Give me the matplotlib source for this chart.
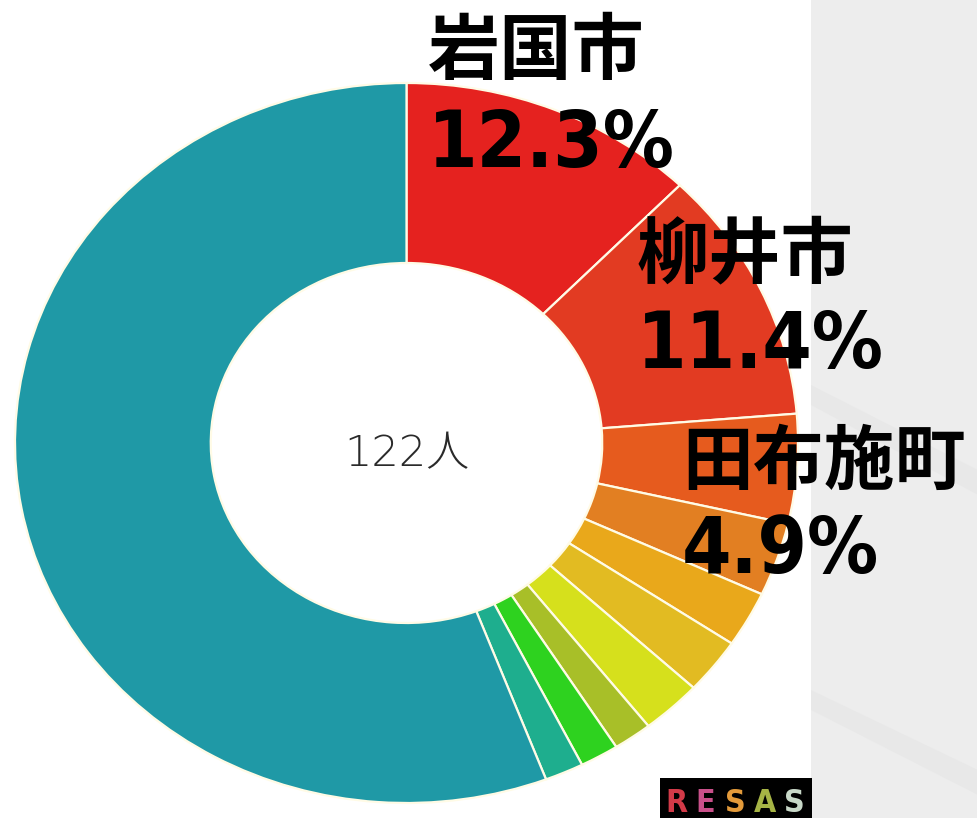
import matplotlib
matplotlib.use("Agg")
import matplotlib.pyplot as plt
from matplotlib.patches import Rectangle, Polygon

# ---- data ----
categories = ["岩国市", "柳井市", "田布施町", "市町4", "市町5", "市町6", "市町7",
              "市町8", "市町9", "市町10", "その他"]
shares = [12.3, 11.4, 4.9, 3.3, 2.5, 2.5, 2.5, 1.6, 1.6, 1.6, 55.8]
colors = ["#e5221f", "#e23b22", "#e65b1e", "#e27f22", "#e9a81b", "#e2bb22",
          "#d6e01c", "#a8bf28", "#2ed21f", "#1eae8e", "#1f99a6"]
total_label = "122人"
n_labeled = 3

W, H = 978, 818
fig = plt.figure(figsize=(W / 100, H / 100), dpi=100)
fig.patch.set_facecolor("white")

# gray background panel on the right
fig.patches.append(Rectangle((811 / W, 0), 1 - 811 / W, 1, transform=fig.transFigure,
                             facecolor="#ededed", edgecolor="none", zorder=0))
fig.patches.append(Polygon([(811 / W, 1 - 385 / H), (1, 1 - 470 / H), (1, 1 - 495 / H),
                            (811 / W, 1 - 405 / H)], closed=True, transform=fig.transFigure,
                           facecolor="#e4e4e4", edgecolor="none", alpha=0.5, zorder=0))
fig.patches.append(Polygon([(811 / W, 1 - 690 / H), (1, 1 - 770 / H), (1, 1 - 795 / H),
                            (811 / W, 1 - 710 / H)], closed=True, transform=fig.transFigure,
                           facecolor="#e4e4e4", edgecolor="none", alpha=0.5, zorder=0))

# donut (slightly elliptical like the reference)
left_px, right_px, top_px, bottom_px = 15, 798, 83, 803
ax = fig.add_axes([left_px / W, 1 - bottom_px / H, (right_px - left_px) / W,
                   (bottom_px - top_px) / H])
ax.pie(shares, colors=colors, startangle=90, counterclock=False, radius=1,
       wedgeprops=dict(width=0.5, edgecolor="#fffbe6", linewidth=1.6))
ax.set_aspect("auto")
ax.set_xlim(-1, 1)
ax.set_ylim(-1, 1)
ax.axis("off")

ax.text(0, -0.03, total_label, ha="center", va="center", fontsize=31,
        color="#2a2a2a", family=["DejaVu Sans", "Noto Sans CJK JP"],
        fontweight="light")

fam = ["DejaVu Sans", "Noto Sans CJK JP"]
# (left px, name baseline px, pct baseline px, name fontsize)
label_pos = [(428, 74, 167, 52), (637, 277, 368, 52), (682, 484, 573, 51)]
for i in range(n_labeled):
    x, yb1, yb2, fs = label_pos[i]
    fig.text(x / W, 1 - yb1 / H, categories[i], ha="left", va="baseline",
             fontsize=fs, fontweight="bold", family=["Noto Sans CJK JP"], color="black")
    fig.text(x / W, 1 - yb2 / H, f"{shares[i]:.1f}%", ha="left", va="baseline",
             fontsize=57, fontweight="bold", family=fam, color="black",
             fontstretch="condensed")

# RESAS logo
fig.patches.append(Rectangle((660 / W, 0), 152 / W, 40 / H, transform=fig.transFigure,
                             facecolor="black", edgecolor="none", zorder=1))
logo_letters = ["R", "E", "S", "A", "S"]
logo_colors = ["#d23a48", "#c9508a", "#e39a3a", "#a6b445", "#c8d8c8"]
for k, (ch, c) in enumerate(zip(logo_letters, logo_colors)):
    fig.text((676 + k * 29.5) / W, 1 - 812 / H, ch, ha="center", va="baseline",
             fontsize=23, fontweight="bold", color=c, family="DejaVu Sans",
             fontstretch="condensed", zorder=2)

fig.savefig("out.png", dpi=100)
